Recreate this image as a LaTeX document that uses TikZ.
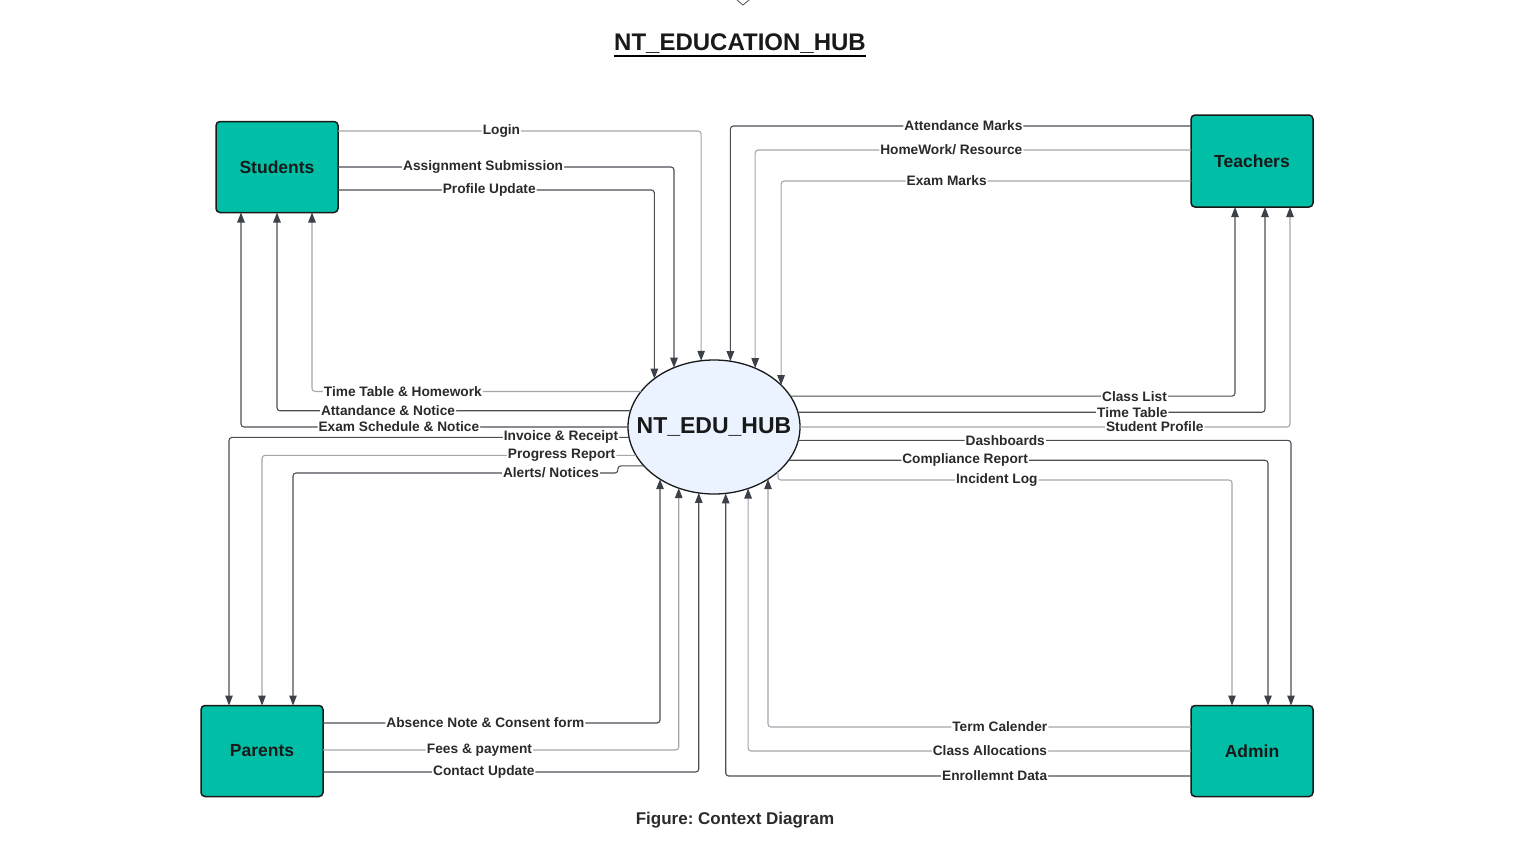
\documentclass[tikz,border=0pt]{standalone}
\usepackage{fontspec}
\setmainfont{Liberation Sans}
\usetikzlibrary{shapes.geometric,arrows.meta}
\definecolor{teal1}{HTML}{00BFA6}
\definecolor{hubfill}{HTML}{EAF3FF}
\definecolor{dk}{HTML}{4A4E55}
\definecolor{lt}{HTML}{A3A7AC}
\definecolor{tip}{HTML}{3C4149}
\definecolor{txt}{HTML}{2A2A2A}
\frenchspacing
\begin{document}
\begin{tikzpicture}[x=1pt,y=-1pt,
 box/.style={draw=black!90, line width=1.5pt, fill=teal1, rounded corners=4pt, minimum width=122pt, minimum height=91pt, inner sep=0pt, outer sep=0pt, font=\fontsize{17.5pt}{20pt}\selectfont\bfseries, text=black!90},
 flowd/.style={draw=dk, line width=1.1pt, rounded corners=3pt, -{Triangle[length=10pt,width=7.5pt,color=tip]}},
 flowl/.style={flowd, draw=lt},
 lab/.style={fill=white, inner sep=1pt, text=txt, font=\fontsize{13.7pt}{15pt}\selectfont\bfseries},
]
\useasboundingbox (0,0) rectangle (1535,847);
% stray mark at top
\draw[line width=0.8pt, black!70] (737,0) -- (743,5) -- (749,0);
% title
\node[anchor=base, inner sep=0pt, font=\fontsize{24pt}{28pt}\selectfont\bfseries, text=black!90] (title) at (740,50) {NT\_EDUCATION\_HUB};
\draw[line width=2pt] ([yshift=-6pt]title.base west) -- ([yshift=-6pt]title.base east);
% entities
\node[box] (stu) at (277,167) {Students};
\node[box, minimum height=92pt] (tea) at (1252,161) {Teachers};
\node[box] (par) at (262,751) {Parents};
\node[box] (adm) at (1252,751) {Admin};
% hub
\node[ellipse, draw=black!90, line width=1.3pt, fill=hubfill, minimum width=172pt, minimum height=134pt, inner sep=0pt, outer sep=0pt] (hub) at (714,427) {};
\node[font=\fontsize{23pt}{27pt}\selectfont\bfseries, text=black!90] (hubtxt) at (hub.center) {NT\_EDU\_HUB};
% docking points
\coordinate (s1) at ([xshift=-36pt]stu.south);
\coordinate (s2) at (stu.south);
\coordinate (s3) at ([xshift=35pt]stu.south);
\coordinate (t1) at ([xshift=-17pt]tea.south);
\coordinate (t2) at ([xshift=13pt]tea.south);
\coordinate (t3) at ([xshift=38pt]tea.south);
\coordinate (a1) at ([xshift=-20pt]adm.north);
\coordinate (a2) at ([xshift=16pt]adm.north);
\coordinate (a3) at ([xshift=39pt]adm.north);
\coordinate (p1) at ([xshift=-33pt]par.north);
\coordinate (p2) at (par.north);
\coordinate (p3) at ([xshift=31pt]par.north);
% Students -> hub
\draw[flowl] (stu.east |- 0,131) -| node[lab,pos=0.225]{Login} (hub.101.96);
\draw[flowd] (stu.east |- 0,167) -| node[lab,pos=0.216]{Assignment Submission} (hub.124.85);
\draw[flowd] (stu.east |- 0,190) -| node[lab,pos=0.239]{Profile Update} (hub.141.3);
% hub -> Students
\draw[flowl] (hub.154.47) -| node[lab,pos=0.362]{Time Table \& Homework} (s3);
\draw[flowd] (hub.169.15) -| node[lab,pos=0.343]{Attandance \& Notice} (s2);
\draw[flowd] (hub.west) -| node[lab,pos=0.296]{Exam Schedule \& Notice} (s1);
% Teachers -> hub
\draw[flowd] (tea.west |- 0,126) -| node[lab,pos=0.247]{Attendance Marks} (hub.76.33);
\draw[flowl] (tea.west |- 0,150) -| node[lab,pos=0.275]{HomeWork/ Resource} (hub.55.99);
\draw[flowl] (tea.west |- 0,181) -| node[lab,pos=0.298]{Exam Marks} (hub.32.08);
% hub -> Teachers
\draw[flowd] (hub.22.94) -| node[lab,pos=0.387]{Class List} (t1);
\draw[flowd] (hub.10.85) -| node[lab,pos=0.358]{Time Table} (t2);
\draw[flowl] (hub.east) -| node[lab,pos=0.362]{Student Profile} (t3);
% hub -> Admin
\draw[flowd] (hub.351.24) -| node[lab,pos=0.21]{Dashboards} (a3);
\draw[flowd] (hub.336.2) -| node[lab,pos=0.184]{Compliance Report} (a2);
\draw[flowl] (hub.325) |- node[lab,pos=0.741]{Incident Log} (a1 |- 0,480) -- (a1);
% Admin -> hub
\draw[flowl] (adm.west |- 0,727) -| node[lab,pos=0.226]{Term Calender} (hub.316.88);
\draw[flowl] (adm.west |- 0,751) -| node[lab,pos=0.227]{Class Allocations} (hub.299.76);
\draw[flowd] (adm.west |- 0,776) -| node[lab,pos=0.211]{Enrollemnt Data} (hub.280.26);
% hub -> Parents
\draw[flowd] (hub.187.39) -| node[lab,pos=0.085]{Invoice \& Receipt} (p1);
\draw[flowl] (hub.200.52) -| node[lab,pos=0.0995]{Progress Report} (p2);
\draw[flowd] (hub.209.16) -- ++(-26,0) |- node[lab,pos=0.603]{Alerts/ Notices} (p3 |- 0,473) -- (p3);
% Parents -> hub
\draw[flowd] (par.east |- 0,723) -| node[lab,pos=0.241]{Absence Note \& Consent form} (hub.224.89);
\draw[flowl] (par.east |- 0,750) -| node[lab,pos=0.22]{Fees \& payment} (hub.240.24);
\draw[flowd] (par.east |- 0,772) -| node[lab,pos=0.214]{Contact Update} (hub.257.2);
% caption
\node[font=\fontsize{17pt}{20pt}\selectfont\bfseries, text=txt] (cap) at (735,820) {Figure: Context Diagram};
\end{tikzpicture}
\end{document}
